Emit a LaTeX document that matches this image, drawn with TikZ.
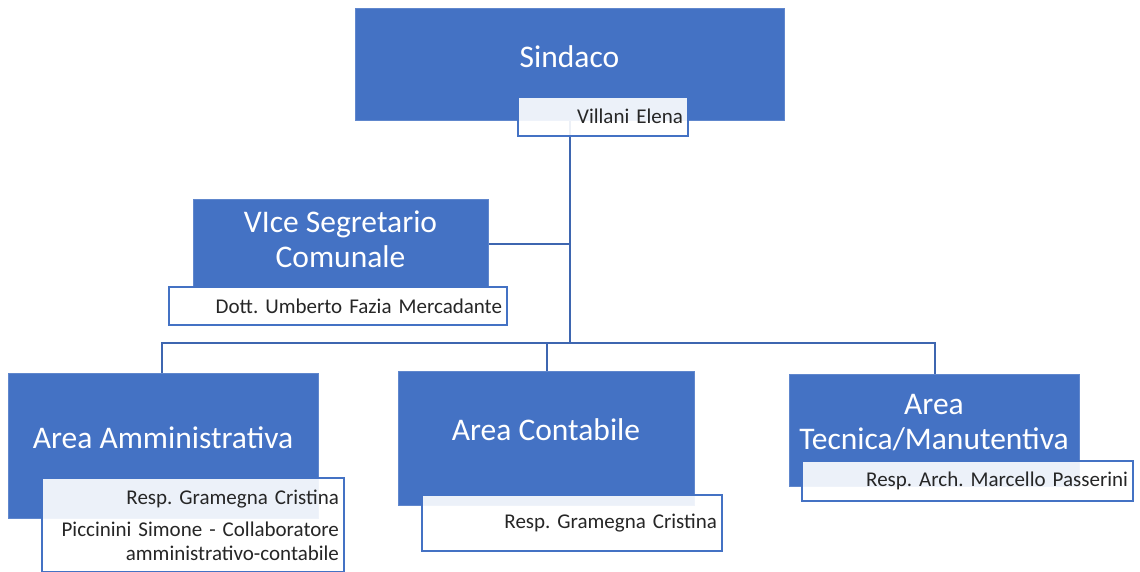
\documentclass[tikz,border=0pt]{standalone}
\usepackage{fontspec}
\setmainfont{Carlito}
\frenchspacing
\usepackage{tikz}
\usetikzlibrary{
    positioning,
    calc,
}
\definecolor{boxblue}{HTML}{4472C4}
\definecolor{lineblue}{HTML}{3E66B0}
\definecolor{inktext}{HTML}{262626}

\begin{document}
\begin{tikzpicture}[
    x=1pt, y=-1pt,
    unit/.style={fill=boxblue, draw=boxblue!85!white, line width=0.8pt, inner sep=0pt},
    title/.style={text=white, align=center, inner sep=0pt, font=\fontsize{31.5}{35}\selectfont},
    holder/.style={fill=white, fill opacity=0.9, text opacity=1, draw=boxblue, line width=1.8pt, text=inktext, align=right, inner xsep=5pt, inner ysep=0pt, font=\fontsize{21}{24}\selectfont},
    link/.style={draw=lineblue, line width=2pt},
]
\useasboundingbox (0,0) rectangle (1140,571);

% connectors
\coordinate (spine) at (570,120);
\coordinate (bar) at (570,343);
\coordinate (side) at (570,244);
\coordinate (amtop) at (162,373);
\coordinate (cotop) at (547,371);
\coordinate (tetop) at (935,374);

\draw[link] (spine) -- (bar);
\draw[link] (488,244) -- (side);
\draw[link] (amtop) |- (bar) -| (tetop);
\draw[link] (bar -| cotop) -- (cotop);

% blue units
\node[unit, minimum width=429pt, minimum height=112pt] (sindaco) at (569.5,64) {};
\node[unit, minimum width=295pt, minimum height=88pt] (vice) at (340.5,243) {};
\node[unit, minimum width=310pt, minimum height=145pt] (amm) at (163,445.5) {};
\node[unit, minimum width=296pt, minimum height=134pt] (cont) at (546,438) {};
\node[unit, minimum width=290pt, minimum height=112pt] (tec) at (934,430) {};

\node[title] (sindacotxt) at ([yshift=7.5pt]sindaco.center) {Sindaco};
\node[title] (vicetxt) at ([yshift=4pt]vice.center) {VIce Segretario\\Comunale};
\node[title] (ammtxt) at ([yshift=7.5pt]amm.center) {Area Amministrativa};
\node[title] (conttxt) at ([yshift=8.5pt]cont.center) {Area Contabile};
\node[title] (tectxt) at ([yshift=7.5pt]tec.center) {Area\\Tecnica/Manutentiva};

% names
\node[holder, minimum width=170pt, minimum height=39pt, text width=160pt] (villani) at (603,116.5) {Villani Elena};
\node[holder, minimum width=338pt, minimum height=38pt, text width=328pt] (fazia) at (338,306) {Dott. Umberto Fazia Mercadante};
\node[holder, minimum width=302pt, minimum height=94pt, text width=292pt] (ammresp) at (193,525) {Resp. Gramegna Cristina\\[8pt]Piccinini Simone - Collaboratore\\amministrativo-contabile};
\node[holder, minimum width=300pt, minimum height=56pt, text width=290pt] (contresp) at (572,523) {Resp. Gramegna Cristina};
\node[holder, minimum width=331pt, minimum height=40pt, text width=321pt] (tecresp) at (967.5,481) {Resp. Arch. Marcello Passerini};

\end{tikzpicture}
\end{document}
